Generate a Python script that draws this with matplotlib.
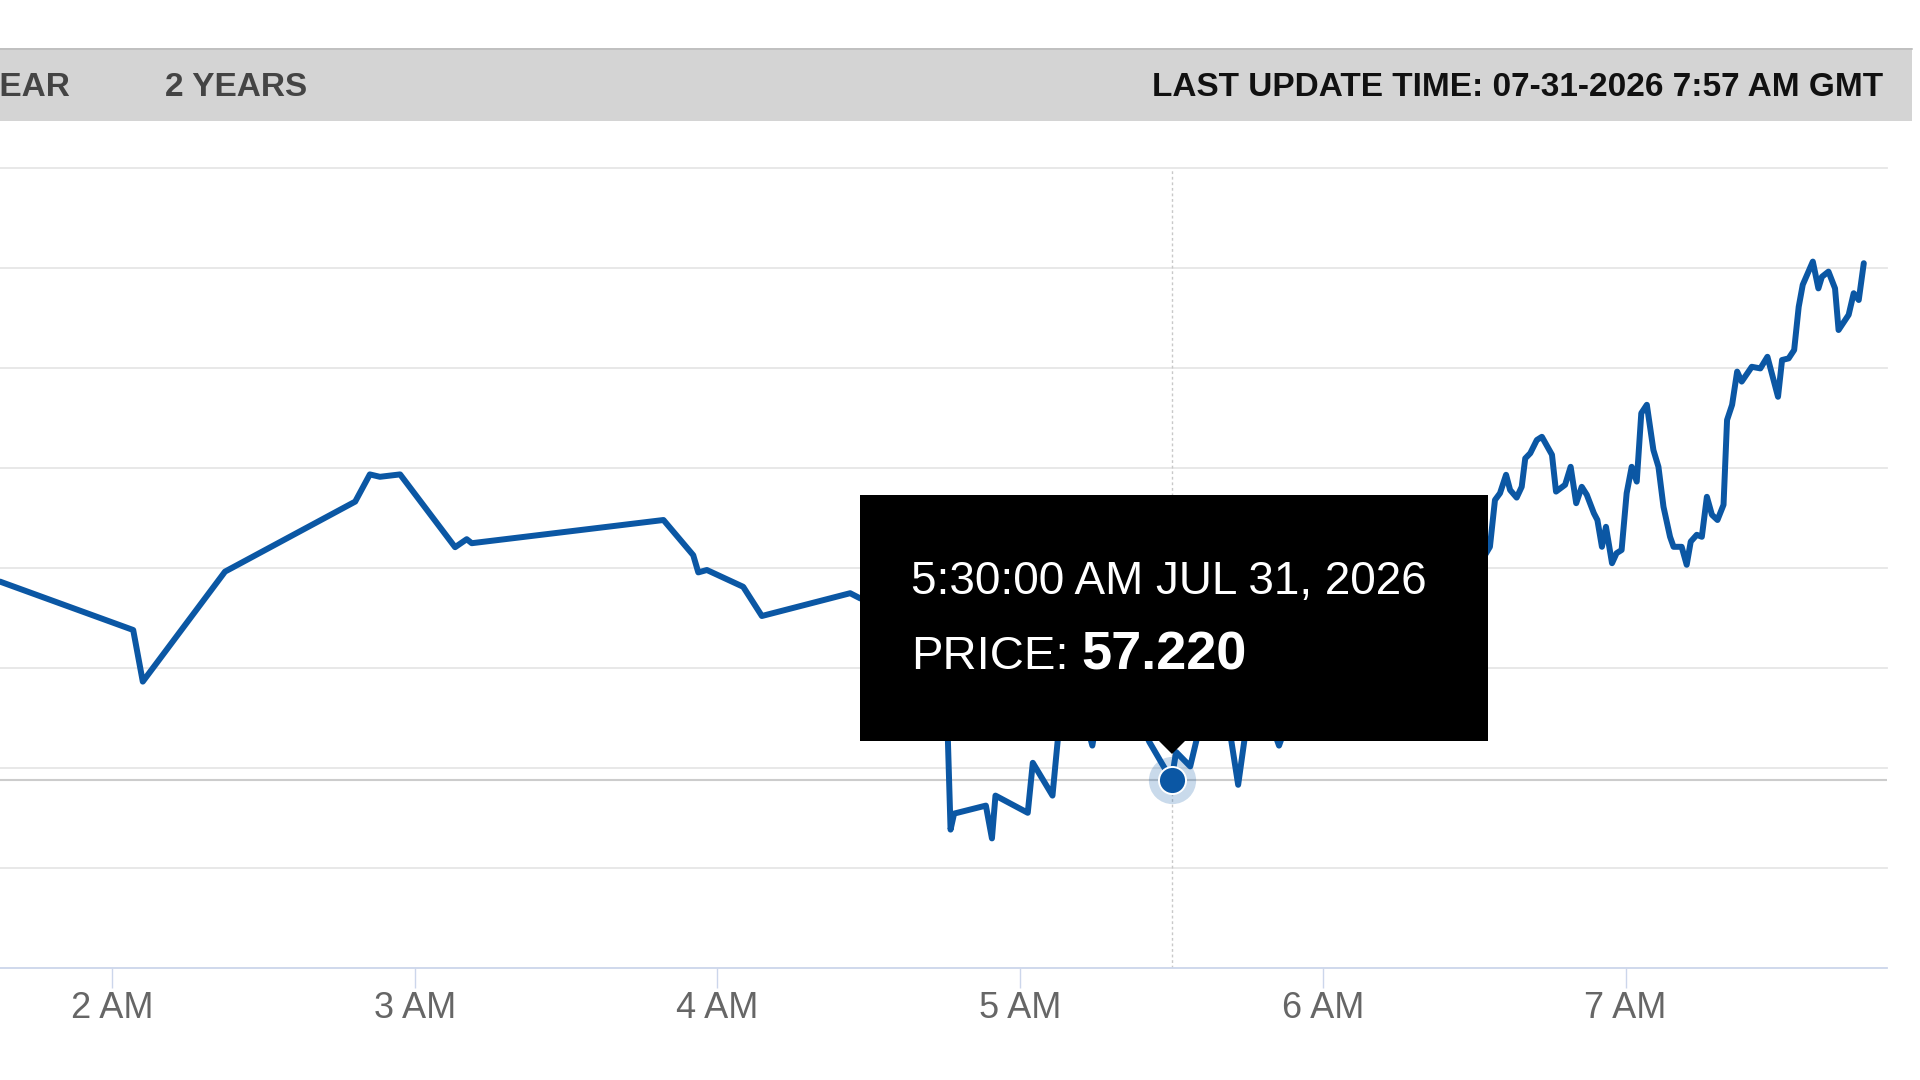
import matplotlib
matplotlib.use("Agg")
import matplotlib.pyplot as plt
from matplotlib.patches import Rectangle, Polygon
import numpy as np

plt.rcParams['font.family'] = ['Liberation Sans', 'DejaVu Sans']

# ---------------- data ----------------
# time in minutes after midnight, price
times_min = [97.8, 124.2, 126.1, 142.4, 168.2, 171.1, 173.1, 177.1, 188.0, 190.3,
             191.3, 229.3, 235.2, 236.2, 237.9, 245.1, 248.8, 266.3, 268.3, 284.9,
             286.2, 286.9, 293.2, 294.4, 295.1, 301.5, 302.5, 306.4, 308.2, 311.9,
             314.3, 315.8, 321.8, 325.6, 330.0, 330.9, 333.7, 335.9, 341.2, 343.2,
             345.0, 349.5, 351.3, 353.1, 361.4, 371.3, 381.3, 389.2, 393.1, 394.1,
             395.1, 396.3, 397.1, 398.4, 399.4, 400.1, 401.1, 402.4, 403.4, 405.4,
             406.2, 408.0, 409.1, 410.2, 411.3, 412.3, 413.7, 414.4, 415.3, 416.1,
             417.3, 418.2, 419.2, 420.2, 421.2, 422.2, 423.1, 424.2, 425.5, 426.5,
             427.5, 428.8, 429.5, 431.1, 432.1, 432.9, 434.1, 435.1, 436.1, 437.1,
             438.2, 439.4, 440.1, 441.1, 442.1, 443.0, 445.0, 446.7, 448.1, 450.2,
             451.0, 452.3, 453.4, 454.3, 455.1, 457.1, 458.2, 458.9, 460.2, 461.5,
             462.2, 464.2, 465.2, 466.2, 467.2]
prices = [57.716, 57.595, 57.466, 57.741, 57.916, 57.984, 57.978, 57.984, 57.802, 57.822,
          57.812, 57.870, 57.782, 57.739, 57.745, 57.703, 57.630, 57.687, 57.674, 57.645,
          57.096, 57.136, 57.156, 57.074, 57.181, 57.138, 57.263, 57.181, 57.420, 57.420,
          57.306, 57.420, 57.420, 57.315, 57.220, 57.290, 57.254, 57.370, 57.370, 57.208,
          57.370, 57.370, 57.306, 57.370, 57.495, 57.570, 57.670, 57.720, 57.803, 57.920,
          57.937, 57.983, 57.945, 57.926, 57.953, 58.024, 58.037, 58.070, 58.078, 58.033,
          57.941, 57.958, 58.003, 57.912, 57.953, 57.933, 57.887, 57.870, 57.803, 57.853,
          57.762, 57.787, 57.795, 57.937, 58.003, 57.966, 58.137, 58.158, 58.045, 58.003,
          57.903, 57.828, 57.803, 57.803, 57.758, 57.816, 57.833, 57.828, 57.928, 57.883,
          57.870, 57.908, 58.120, 58.158, 58.241, 58.216, 58.253, 58.249, 58.278, 58.178,
          58.270, 58.274, 58.295, 58.403, 58.458, 58.516, 58.449, 58.478, 58.491, 58.449,
          58.345, 58.383, 58.437, 58.420, 58.512]

x_ticks = [120, 180, 240, 300, 360, 420]
x_tick_labels = ['2 AM', '3 AM', '4 AM', '5 AM', '6 AM', '7 AM']
y_grid = [56.75, 57.00, 57.25, 57.50, 57.75, 58.00, 58.25, 58.50, 58.75]
x_range = [97.8, 471.8]

tip_time_min = 330.0
tip_price = 57.220
tip_label = '5:30:00 AM JUL 31, 2026'
range_labels = ['1 YEAR', '2 YEARS']
update_label = 'LAST UPDATE TIME: 07-31-2026 7:57 AM GMT'

BLUE = '#0b57a4'

# ---------------- figure ----------------
W, H = 1920, 1080
fig = plt.figure(figsize=(W / 100, H / 100), dpi=100)
fig.patch.set_facecolor('white')

ax = fig.add_axes([0, (H - 968) / H, 1887 / W, 800 / H])
ax.set_facecolor('white')
ax.set_xlim(*x_range)
ax.set_ylim(y_grid[0], y_grid[-1])

for v in y_grid[1:]:
    ax.axhline(v, color='#e6e6e6', lw=1.3, zorder=0, clip_on=False)

for s in ['top', 'left', 'right']:
    ax.spines[s].set_visible(False)
ax.spines['bottom'].set_color('#ccd6eb')
ax.spines['bottom'].set_linewidth(1.3)

ax.set_yticks([])
ax.set_xticks(x_ticks)
ax.set_xticklabels(x_tick_labels)
ax.tick_params(axis='x', length=14.5, width=1.0, color='#ccd6eb', pad=2.2,
               labelsize=26, labelcolor='#666666')

# crosshairs
ax.axvline(tip_time_min, color='#c8c8c8', lw=1.0, ls=(0, (2, 2)), zorder=1)
ax.axhline(tip_price, color='#cccccc', lw=1.5, zorder=1)

ax.plot(times_min, prices, color=BLUE, lw=4.3, solid_joinstyle='round',
        solid_capstyle='round', zorder=3, clip_on=False)

# hovered point
ax.plot([tip_time_min], [tip_price], 'o', ms=34, color=BLUE, alpha=0.22,
        mec='none', zorder=4)
ax.plot([tip_time_min], [tip_price], 'o', ms=19.5, color=BLUE, mec='white',
        mew=1.4, zorder=5)

# ---------------- overlay (pixel coordinates) ----------------
ov = fig.add_axes([0, 0, 1, 1], zorder=10)
ov.set_xlim(0, W)
ov.set_ylim(H, 0)
ov.axis('off')
ov.patch.set_alpha(0)

# header bar
ov.add_patch(Rectangle((0, 48), 1912, 73, facecolor='#d4d4d4', edgecolor='none'))
ov.plot([0, 1912], [48.5, 48.5], color='#bdbdbd', lw=1.2)
ov.text(70, 96.5, range_labels[0], ha='right', va='baseline', fontsize=24,
        fontweight='bold', color='#444444')
ov.text(165, 96.5, range_labels[1], ha='left', va='baseline', fontsize=24,
        fontweight='bold', color='#444444')
ov.text(1883, 96.5, update_label, ha='right', va='baseline', fontsize=24,
        fontweight='bold', color='#111111')

# tooltip
ov.add_patch(Rectangle((860, 495), 628, 246, facecolor='black', edgecolor='none'))
ov.add_patch(Polygon([[1158, 740], [1186, 740], [1172, 754]], closed=True,
                     facecolor='black', edgecolor='none'))
ov.text(911, 594, tip_label, ha='left', va='baseline', fontsize=33, color='white')
ov.text(911, 669, 'PRICE:', ha='left', va='baseline', fontsize=34, color='white')
ov.text(1081, 669, f'{tip_price:.3f}', ha='left', va='baseline', fontsize=39,
        fontweight='bold', color='white')

fig.savefig('out.png', dpi=100, facecolor='white')
